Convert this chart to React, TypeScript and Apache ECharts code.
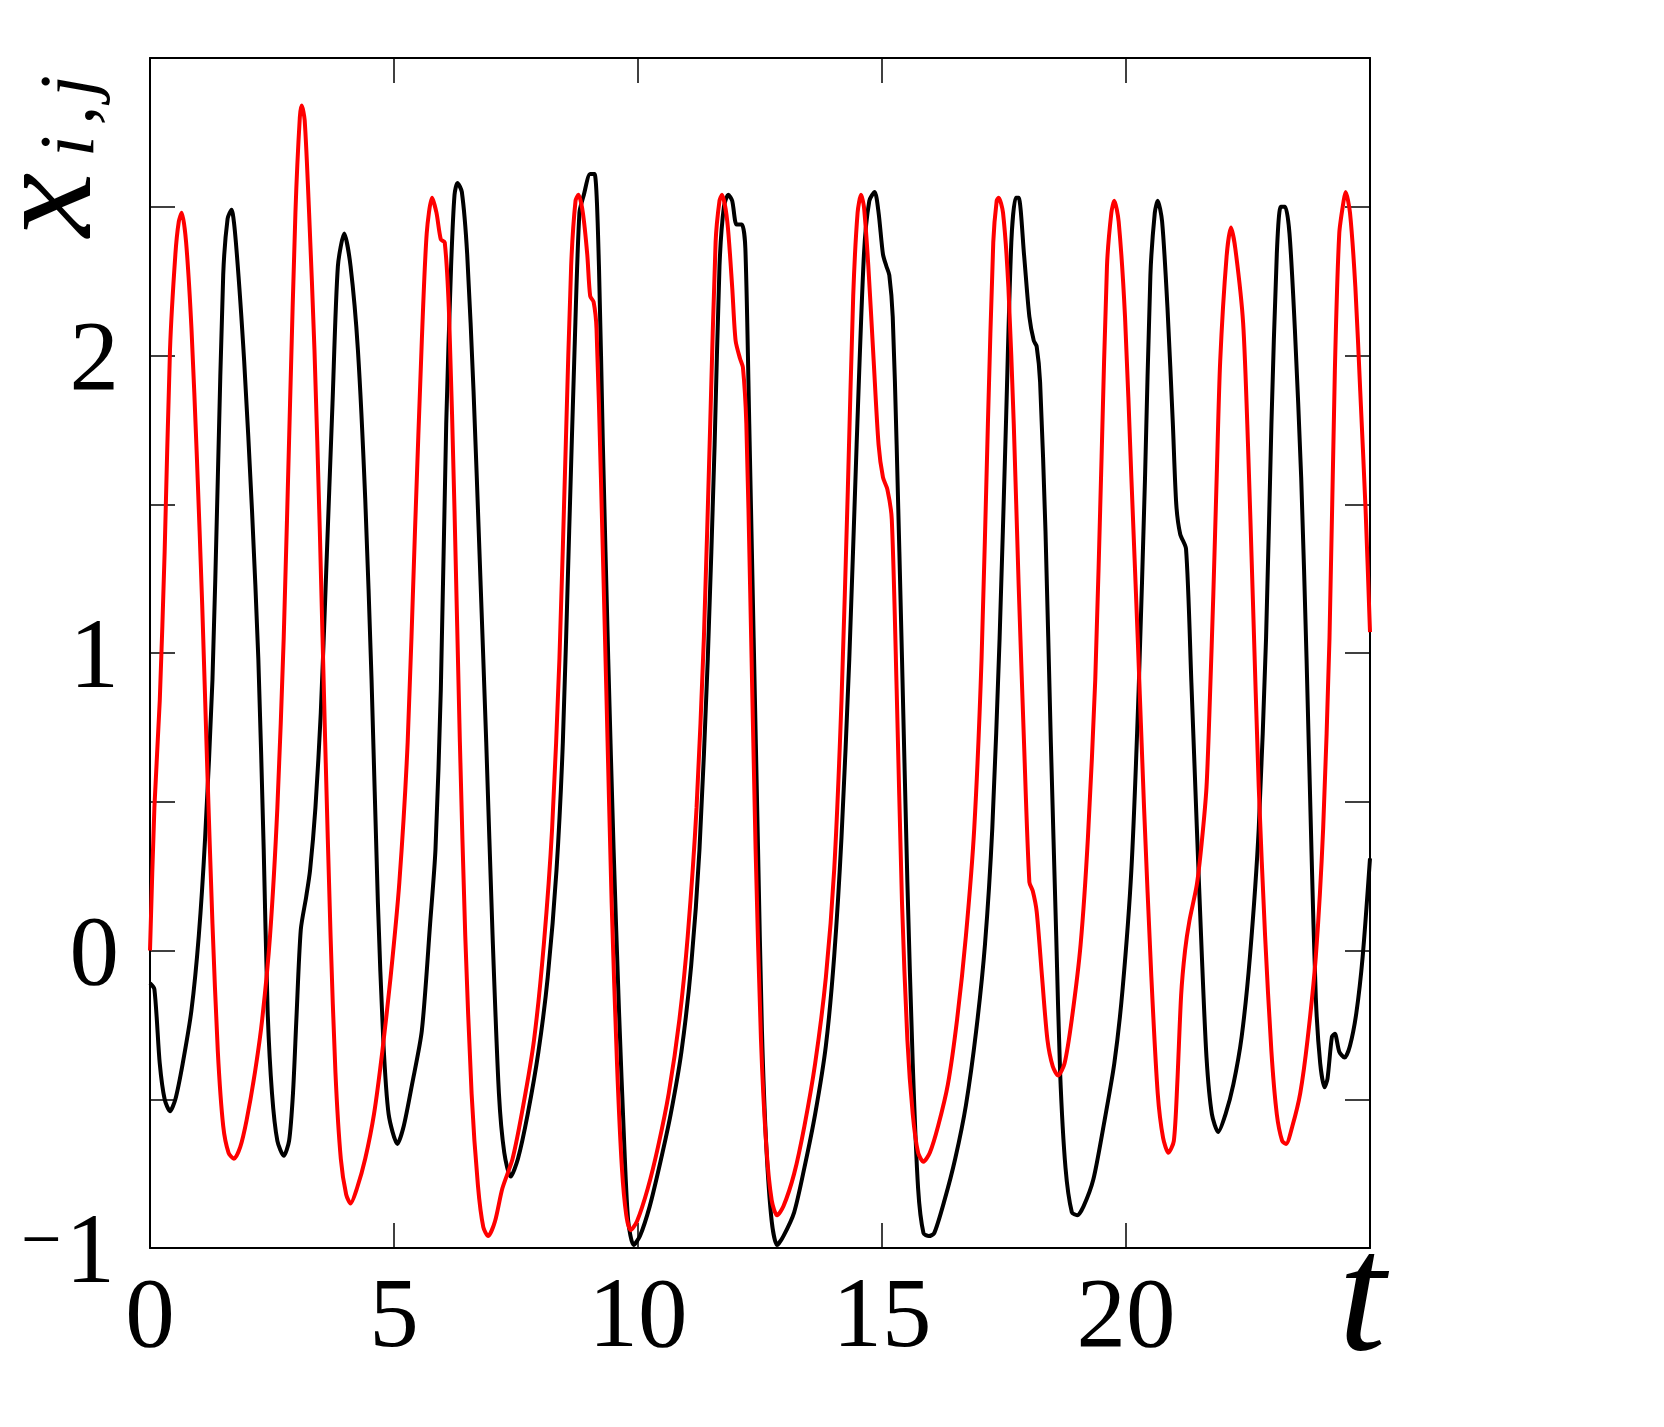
import React, { useEffect, useRef } from "react";
import * as echarts from "echarts";

// time axis ticks
const xTicks = [0, 5, 10, 15, 20, 25];
const yTicks = [-1, -0.5, 0, 0.5, 1, 1.5, 2, 2.5, 3];

// black trajectory [t, x]
const blackSeries: [number, number][] = [
  [0, -0.11], [0.09, -0.13], [0.2, -0.38], [0.3, -0.5], [0.41, -0.54], [0.52, -0.5], [0.67, -0.38], [0.85, -0.2],
  [1.0, 0.05], [1.13, 0.38], [1.28, 0.91], [1.39, 1.59], [1.5, 2.27], [1.59, 2.46], [1.67, 2.49], [1.76, 2.38],
  [1.93, 1.98], [2.09, 1.48], [2.22, 0.98], [2.33, 0.34], [2.41, -0.2], [2.5, -0.48], [2.61, -0.64], [2.74, -0.69],
  [2.85, -0.64], [2.93, -0.48], [3.0, -0.23], [3.09, 0.07], [3.2, 0.18], [3.28, 0.27], [3.39, 0.48], [3.5, 0.8],
  [3.61, 1.27], [3.74, 1.84], [3.85, 2.3], [3.98, 2.41], [4.11, 2.3], [4.26, 2.02], [4.41, 1.52], [4.54, 0.91],
  [4.67, 0.16], [4.78, -0.3], [4.89, -0.55], [5.07, -0.65], [5.2, -0.59], [5.37, -0.45], [5.57, -0.27], [5.74, 0.09],
  [5.85, 0.34], [5.96, 0.88], [6.07, 1.77], [6.17, 2.3], [6.24, 2.54], [6.3, 2.58], [6.39, 2.55], [6.5, 2.34],
  [6.63, 1.88], [6.76, 1.3], [6.89, 0.7], [7.02, 0.05], [7.15, -0.48], [7.26, -0.68], [7.39, -0.76], [7.54, -0.7],
  [7.74, -0.55], [7.96, -0.34], [8.15, -0.09], [8.33, 0.27], [8.46, 0.7], [8.59, 1.41], [8.7, 2.02], [8.8, 2.48],
  [8.89, 2.54], [9.02, 2.61], [9.11, 2.61], [9.2, 2.3], [9.28, 1.7], [9.39, 0.98], [9.5, 0.34], [9.61, -0.2],
  [9.72, -0.66], [9.8, -0.91], [9.91, -0.99], [10.04, -0.96], [10.24, -0.86], [10.46, -0.71], [10.67, -0.55], [10.89, -0.34],
  [11.09, -0.05], [11.26, 0.34], [11.43, 0.98], [11.57, 1.7], [11.67, 2.3], [11.76, 2.5], [11.85, 2.54], [11.93, 2.52],
  [12.02, 2.44], [12.13, 2.44], [12.2, 2.36], [12.28, 1.77], [12.37, 1.05], [12.46, 0.34], [12.54, -0.27], [12.63, -0.66],
  [12.74, -0.91], [12.85, -0.99], [12.98, -0.96], [13.2, -0.88], [13.41, -0.73], [13.63, -0.55], [13.85, -0.32], [14.02, -0.02],
  [14.17, 0.38], [14.33, 0.98], [14.48, 1.7], [14.63, 2.34], [14.74, 2.52], [14.85, 2.55], [14.93, 2.48], [15.02, 2.34],
  [15.09, 2.3], [15.15, 2.27], [15.22, 2.13], [15.3, 1.7], [15.41, 0.98], [15.52, 0.23], [15.63, -0.38], [15.74, -0.8],
  [15.85, -0.95], [15.96, -0.96], [16.07, -0.95], [16.28, -0.84], [16.5, -0.7], [16.72, -0.52], [16.93, -0.27], [17.11, 0.02],
  [17.26, 0.41], [17.41, 1.05], [17.54, 1.77], [17.65, 2.38], [17.74, 2.53], [17.8, 2.53], [17.91, 2.34], [18.02, 2.13],
  [18.11, 2.05], [18.17, 2.03], [18.24, 1.91], [18.35, 1.41], [18.46, 0.7], [18.57, 0.05], [18.65, -0.41], [18.76, -0.73],
  [18.89, -0.88], [19.0, -0.89], [19.13, -0.86], [19.33, -0.77], [19.54, -0.59], [19.76, -0.38], [19.93, -0.13], [20.11, 0.27],
  [20.26, 0.88], [20.39, 1.59], [20.5, 2.27], [20.59, 2.48], [20.65, 2.52], [20.74, 2.45], [20.85, 2.16], [20.96, 1.77],
  [21.03, 1.5], [21.11, 1.4], [21.23, 1.35], [21.34, 0.9], [21.45, 0.42], [21.55, 0.0], [21.65, -0.36], [21.76, -0.55],
  [21.89, -0.61], [22.04, -0.55], [22.2, -0.45], [22.37, -0.29], [22.54, -0.02], [22.72, 0.41], [22.87, 1.05], [22.98, 1.77],
  [23.09, 2.34], [23.17, 2.5], [23.26, 2.5], [23.35, 2.41], [23.46, 2.09], [23.59, 1.59], [23.7, 0.98], [23.8, 0.34],
  [23.89, -0.16], [23.98, -0.38], [24.07, -0.46], [24.13, -0.43], [24.22, -0.29], [24.28, -0.28], [24.37, -0.34], [24.48, -0.36],
  [24.59, -0.32], [24.72, -0.21], [24.85, -0.02], [25, 0.31],
];

// red trajectory [t, x]
const redSeries: [number, number][] = [
  [0, 0], [0.09, 0.48], [0.2, 0.84], [0.3, 1.34], [0.41, 2.02], [0.52, 2.34], [0.59, 2.45], [0.65, 2.48],
  [0.74, 2.38], [0.85, 2.09], [0.96, 1.66], [1.07, 1.16], [1.17, 0.63], [1.28, 0.09], [1.39, -0.34], [1.5, -0.59],
  [1.61, -0.68], [1.72, -0.7], [1.85, -0.66], [1.98, -0.57], [2.15, -0.41], [2.3, -0.23], [2.46, 0.05], [2.61, 0.48],
  [2.74, 1.05], [2.87, 1.84], [2.98, 2.48], [3.07, 2.8], [3.11, 2.84], [3.17, 2.79], [3.26, 2.48], [3.37, 2.02],
  [3.48, 1.41], [3.59, 0.7], [3.7, 0.05], [3.8, -0.41], [3.91, -0.7], [4.02, -0.82], [4.11, -0.85], [4.24, -0.8],
  [4.41, -0.7], [4.59, -0.55], [4.76, -0.34], [4.93, -0.09], [5.11, 0.23], [5.28, 0.7], [5.43, 1.41], [5.57, 2.05],
  [5.67, 2.41], [5.78, 2.53], [5.87, 2.48], [5.96, 2.39], [6.04, 2.38], [6.13, 2.13], [6.24, 1.48], [6.35, 0.7],
  [6.46, 0.05], [6.59, -0.48], [6.72, -0.79], [6.83, -0.93], [6.93, -0.96], [7.07, -0.91], [7.22, -0.8], [7.43, -0.7],
  [7.65, -0.52], [7.87, -0.3], [8.07, 0.02], [8.24, 0.41], [8.39, 0.98], [8.52, 1.7], [8.63, 2.3], [8.72, 2.52],
  [8.78, 2.54], [8.87, 2.48], [8.96, 2.34], [9.02, 2.2], [9.09, 2.18], [9.15, 2.09], [9.24, 1.59], [9.35, 0.88],
  [9.46, 0.16], [9.57, -0.38], [9.67, -0.73], [9.76, -0.89], [9.85, -0.94], [9.98, -0.91], [10.2, -0.8], [10.41, -0.66],
  [10.63, -0.48], [10.85, -0.23], [11.02, 0.05], [11.2, 0.48], [11.35, 1.05], [11.48, 1.77], [11.59, 2.38], [11.67, 2.52],
  [11.72, 2.54], [11.83, 2.45], [11.93, 2.23], [12.0, 2.05], [12.09, 1.99], [12.15, 1.96], [12.22, 1.77], [12.3, 1.2],
  [12.41, 0.34], [12.52, -0.3], [12.63, -0.66], [12.74, -0.84], [12.85, -0.89], [12.98, -0.86], [13.2, -0.75], [13.41, -0.59],
  [13.63, -0.38], [13.85, -0.09], [14.02, 0.27], [14.17, 0.84], [14.3, 1.55], [14.41, 2.2], [14.5, 2.48], [14.57, 2.54],
  [14.63, 2.5], [14.72, 2.3], [14.83, 1.98], [14.93, 1.7], [15.02, 1.59], [15.11, 1.55], [15.2, 1.45], [15.3, 0.88],
  [15.41, 0.16], [15.52, -0.3], [15.63, -0.55], [15.74, -0.68], [15.85, -0.71], [15.98, -0.68], [16.15, -0.59], [16.35, -0.45],
  [16.54, -0.23], [16.72, 0.05], [16.89, 0.41], [17.04, 0.98], [17.17, 1.77], [17.28, 2.38], [17.35, 2.52], [17.39, 2.53],
  [17.48, 2.48], [17.59, 2.23], [17.7, 1.77], [17.8, 1.23], [17.91, 0.7], [18.02, 0.23], [18.09, 0.2], [18.17, 0.13],
  [18.28, -0.09], [18.39, -0.3], [18.5, -0.39], [18.61, -0.42], [18.74, -0.38], [18.89, -0.23], [19.07, 0.02], [19.22, 0.38],
  [19.37, 0.91], [19.5, 1.66], [19.61, 2.3], [19.7, 2.48], [19.76, 2.52], [19.85, 2.45], [19.98, 2.13], [20.11, 1.59],
  [20.24, 1.05], [20.37, 0.48], [20.52, -0.09], [20.65, -0.48], [20.76, -0.63], [20.87, -0.68], [20.98, -0.64], [21.05, -0.45],
  [21.13, -0.15], [21.21, 0.0], [21.3, 0.1], [21.45, 0.22], [21.55, 0.36], [21.65, 0.55], [21.72, 0.85], [21.79, 1.2],
  [21.86, 1.6], [21.93, 1.98], [22.06, 2.33], [22.15, 2.43], [22.24, 2.36], [22.4, 2.11], [22.5, 1.7], [22.6, 1.18],
  [22.72, 0.55], [22.85, 0.05], [22.98, -0.34], [23.09, -0.55], [23.2, -0.64], [23.28, -0.65], [23.41, -0.59], [23.57, -0.48],
  [23.72, -0.3], [23.89, -0.02], [24.04, 0.41], [24.17, 1.05], [24.28, 1.95], [24.37, 2.41], [24.46, 2.52], [24.5, 2.55],
  [24.59, 2.48], [24.7, 2.23], [24.8, 1.88], [24.91, 1.48], [25, 1.07],
];

const SERIF = "'Liberation Serif', 'Times New Roman', serif";

export default function App() {
  const ref = useRef<HTMLDivElement>(null);

  useEffect(() => {
    if (!ref.current) return;
    const chart = echarts.init(ref.current, null, { renderer: "svg" });
    const xMax = xTicks[xTicks.length - 1];
    const yMin = yTicks[0];
    const yMax = yTicks[yTicks.length - 1];

    const axisLine = { show: true, onZero: false, lineStyle: { color: "#000", width: 2 } };
    const tickStyle = { color: "#000", width: 1.5 };
    const italic = (text: string, size: number, x: number, y: number, lineHeight: number) => ({
      type: "text",
      x,
      y,
      style: {
        text,
        fontFamily: SERIF,
        fontStyle: "italic",
        fontSize: size,
        lineHeight,
        fill: "#000",
        align: "left",
        verticalAlign: "middle",
      },
    });

    chart.setOption({
      animation: false,
      backgroundColor: "#fff",
      grid: { left: 150, top: 58, width: 1220, height: 1190, containLabel: false },
      xAxis: [
        {
          type: "value",
          min: 0,
          max: xMax,
          interval: 5,
          position: "bottom",
          axisLine,
          axisTick: { show: true, inside: true, length: 25, lineStyle: tickStyle },
          splitLine: { show: false },
          axisLabel: {
            show: true,
            margin: 15,
            color: "#000",
            fontFamily: SERIF,
            fontSize: 99,
            showMinLabel: true,
            showMaxLabel: true,
            formatter: (v: number) => (v === xMax ? "" : String(v)),
          },
        },
        {
          type: "value",
          min: 0,
          max: xMax,
          interval: 5,
          position: "top",
          axisLine,
          axisTick: { show: true, inside: true, length: 25, lineStyle: tickStyle },
          splitLine: { show: false },
          axisLabel: { show: false },
        },
      ],
      yAxis: [
        {
          type: "value",
          min: yMin,
          max: yMax,
          interval: 0.5,
          position: "left",
          axisLine,
          axisTick: { show: true, inside: true, length: 25, lineStyle: tickStyle },
          splitLine: { show: false },
          axisLabel: {
            show: true,
            margin: 31,
            color: "#000",
            fontFamily: SERIF,
            fontSize: 99,
            showMinLabel: true,
            showMaxLabel: true,
            formatter: (v: number) => {
              if (v === yMax || !Number.isInteger(v)) return "";
              if (v < 0) return "{m|\u2212}{n|" + String(Math.abs(v)) + "}";
              return String(v);
            },
            rich: {
              m: { fontFamily: SERIF, fontSize: 72, color: "#000", padding: [0, 4, 18, 0] },
              n: { fontFamily: SERIF, fontSize: 99, color: "#000", padding: [0, 4, 0, 0] },
            },
          },
        },
        {
          type: "value",
          min: yMin,
          max: yMax,
          interval: 0.5,
          position: "right",
          axisLine,
          axisTick: { show: true, inside: true, length: 25, lineStyle: tickStyle },
          splitLine: { show: false },
          axisLabel: { show: false },
        },
      ],
      series: [
        {
          type: "line",
          data: blackSeries,
          xAxisIndex: 0,
          yAxisIndex: 0,
          showSymbol: false,
          smooth: 0.25,
          lineStyle: { color: "#000000", width: 4 },
          z: 2,
        },
        {
          type: "line",
          data: redSeries,
          xAxisIndex: 0,
          yAxisIndex: 0,
          showSymbol: false,
          smooth: 0.25,
          lineStyle: { color: "#ff0000", width: 4 },
          z: 3,
        },
      ],
      graphic: [
        {
          type: "text",
          x: 1362,
          y: 1292,
          style: {
            text: "t",
            fontFamily: SERIF,
            fontStyle: "italic",
            fontSize: 170,
            lineHeight: 120,
            fill: "#000",
            align: "center",
            verticalAlign: "middle",
          },
        },
        {
          type: "group",
          x: 90,
          y: 237,
          rotation: Math.PI / 2,
          children: [
            italic("x", 145, 0, -49, 80),
            italic("i", 78, 80, -24, 70),
            italic(",", 78, 112, -24, 70),
            italic("j", 78, 140, -24, 70),
          ],
        },
      ],
    });
    return () => chart.dispose();
  }, []);

  return (
    <div
      ref={ref}
      style={{ position: "absolute", left: 0, top: 0, width: 1664, height: 1427, background: "#fff" }}
    />
  );
}
